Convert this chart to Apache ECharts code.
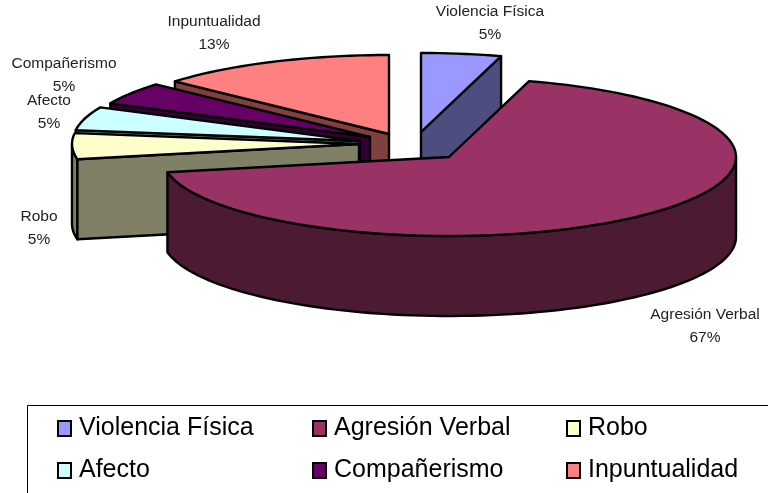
<!DOCTYPE html>
<html>
<head>
<meta charset="utf-8">
<style>
  html, body { margin: 0; padding: 0; background: #fff; }
  #main { width: 768px; height: 493px; }
</style>
<script src="https://cdn.jsdelivr.net/npm/echarts@6/dist/echarts.min.js"></script>
</head>
<body>
<div id="main"></div>
<script>
// slices, clockwise from 12 o'clock
var categories = ['Violencia Física', 'Agresión Verbal', 'Robo', 'Afecto', 'Compañerismo', 'Inpuntualidad'];
var percentValues = [4.5, 67.4, 5.3, 4.8, 4.6, 13.4];

var topColors = ['#9999FF', '#993366', '#FFFFCC', '#CCFFFF', '#660066', '#FF8080'];
var sideColors = ['#4D4D80', '#4D1A33', '#808066', '#668080', '#330033', '#804040'];

// pseudo 3d pie layout
var radiusX = 287, radiusY = 79, depth = 80;
var sliceCenters = [[421, 132], [449, 157], [359, 144], [360, 141], [370, 137], [389, 134]];
var labelAnchors = [[490, 23], [705, 326], [39, 228], [49, 112], [64, 75], [214, 33]];
var drawOrder = [5, 4, 3, 2, 0, 1];

var total = percentValues.reduce(function (a, b) { return a + b; }, 0);
var angles = [];
var running = 0;
percentValues.forEach(function (v) {
	var start = running;
	running += v / total * 360;
	angles.push([start, running]);
});

function rimPoint(c, deg, dy) {
	var r = deg * Math.PI / 180;
	return [c[0] + radiusX * Math.sin(r), c[1] - radiusY * Math.cos(r) + (dy || 0)];
}

function arcPoints(c, from, to, dy) {
	var pts = [];
	var n = Math.max(2, Math.ceil(Math.abs(to - from) / 2));
	for (var i = 0; i <= n; i++) {
		pts.push(rimPoint(c, from + (to - from) * i / n, dy));
	}
	return pts;
}

function poly(points, fill) {
	return {
		type: 'polygon',
		shape: { points: points },
		style: { fill: fill, stroke: '#000', lineWidth: 2.4, lineJoin: 'round' }
	};
}

function cutFace(c, deg, fill) {
	var p = rimPoint(c, deg);
	return poly([c, p, [p[0], p[1] + depth], [c[0], c[1] + depth]], fill);
}

function makeRender(idx) {
	return function (params, api) {
		var start = api.value(0), end = api.value(1);
		var c = sliceCenters[idx];
		var children = [];

		// outer wall only shows on the front half
		var wallFrom = Math.max(start, 90), wallTo = Math.min(end, 270);
		if (wallTo > wallFrom) {
			var wall = arcPoints(c, wallFrom, wallTo, 0).concat(arcPoints(c, wallTo, wallFrom, depth));
			children.push(poly(wall, sideColors[idx]));
		}
		if (start > 180 && start < 360) children.push(cutFace(c, start, sideColors[idx]));
		if (end > 0 && end < 180) children.push(cutFace(c, end, sideColors[idx]));

		children.push(poly([c].concat(arcPoints(c, start, end, 0)), topColors[idx]));

		children.push({
			type: 'text',
			x: labelAnchors[idx][0],
			y: labelAnchors[idx][1],
			style: {
				text: categories[idx] + '\n' + Math.round(api.value(2)) + '%',
				fill: '#222',
				font: '15.5px "Liberation Sans", Arial, sans-serif',
				lineHeight: 23,
				align: 'center',
				verticalAlign: 'middle'
			}
		});
		return { type: 'group', children: children };
	};
}

var myChart = echarts.init(document.getElementById('main'));

function legendColumn(left, names) {
	return {
		orient: 'vertical',
		left: left,
		top: 416,
		data: names,
		icon: 'rect',
		itemWidth: 13,
		itemHeight: 15,
		itemGap: 17,
		itemStyle: { borderColor: '#000', borderWidth: 2 },
		textStyle: { fontSize: 25, lineHeight: 25, color: '#000', fontFamily: '"Liberation Sans", Arial, sans-serif', padding: [0, 0, 0, 3] },
		selectedMode: false,
		padding: 0
	};
}

var option = {
	animation: false,
	backgroundColor: '#fff',
	legend: [
		legendColumn(57, [categories[0], categories[3]]),
		legendColumn(312, [categories[1], categories[4]]),
		legendColumn(566, [categories[2], categories[5]])
	],
	graphic: [{
		type: 'polyline',
		shape: { points: [[27.5, 493], [27.5, 405.5], [768, 405.5]] },
		style: { stroke: '#000', lineWidth: 1, fill: 'none' },
		silent: true
	}],
	series: drawOrder.map(function (idx) {
		return {
			type: 'custom',
			name: categories[idx],
			coordinateSystem: 'none',
			silent: true,
			itemStyle: { color: topColors[idx] },
			renderItem: makeRender(idx),
			data: [[angles[idx][0], angles[idx][1], percentValues[idx]]]
		};
	})
};

myChart.setOption(option);
</script>
</body>
</html>
